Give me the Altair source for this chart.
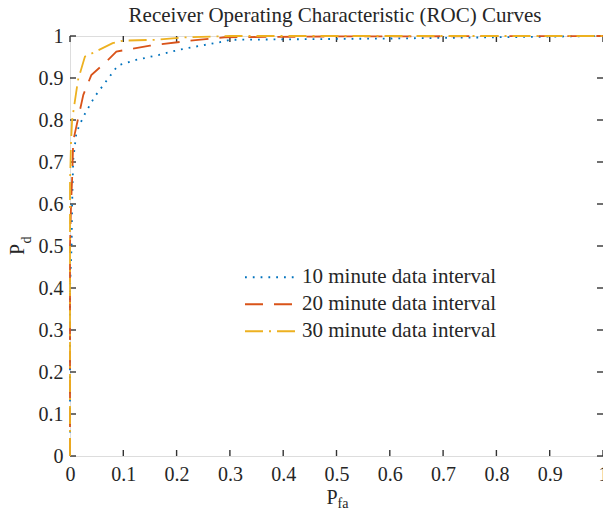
import altair as alt
import pandas as pd

labels = ["10 minute data interval", "20 minute data interval", "30 minute data interval"]
colors = ["#0072BD", "#D95319", "#EDB120"]
dashes = [[1.8, 6], [18, 11], [18, 6, 2, 6]]

pfa_10 = [0, 0, 0.003, 0.004, 0.006, 0.012, 0.025, 0.046, 0.09, 0.124, 0.167, 0.204, 0.241, 0.284, 0.3, 0.6, 1]
pd_10 = [0, 0.4, 0.5, 0.6, 0.705, 0.77, 0.808, 0.855, 0.93, 0.943, 0.955, 0.967, 0.976, 0.986, 0.991, 0.994, 1]

pfa_20 = [0, 0, 0.002, 0.004, 0.006, 0.025, 0.04, 0.068, 0.087, 0.15, 0.22, 0.29, 0.5, 1]
pd_20 = [0, 0.5, 0.6, 0.66, 0.75, 0.86, 0.907, 0.939, 0.963, 0.977, 0.988, 0.997, 0.999, 1]

pfa_30 = [0, 0, 0.002, 0.004, 0.015, 0.028, 0.04, 0.08, 0.1, 0.16, 0.22, 0.3, 1]
pd_30 = [0, 0.65, 0.75, 0.8, 0.895, 0.951, 0.958, 0.983, 0.989, 0.991, 0.997, 1, 1]

ticks = [0, 0.1, 0.2, 0.3, 0.4, 0.5, 0.6, 0.7, 0.8, 0.9, 1]

rows = []
for lab, xs, ys in zip(labels, [pfa_10, pfa_20, pfa_30], [pd_10, pd_20, pd_30]):
    for i, (a, b) in enumerate(zip(xs, ys)):
        rows.append({"series": lab, "pfa": a, "pd": b, "idx": i})
df = pd.DataFrame(rows)
tdf = pd.DataFrame({"t": ticks})

W, H = 533, 420
FONT = "Liberation Serif"
TXT = "#262626"
AX = "#333333"

xscale = alt.Scale(domain=[0, 1], nice=False)
yscale = alt.Scale(domain=[0, 1], nice=False)

leg = alt.Legend(
    title=None, orient="none", legendX=174, legendY=228,
    symbolType="stroke", symbolSize=2500, symbolStrokeWidth=1.8,
    clipHeight=26.5, rowPadding=0, padding=0, labelOffset=6,
    labelFont=FONT, labelFontSize=21, labelColor=TXT, labelLimit=400,
)

lines = alt.Chart(df).mark_line(strokeWidth=1.8, clip=False).encode(
    x=alt.X("pfa:Q", scale=xscale,
            axis=alt.Axis(values=ticks, format="~g", ticks=False, domain=False, grid=False,
                          labelFont=FONT, labelFontSize=20, labelColor=TXT, labelPadding=8,
                          labelFlush=False, title="P", titleFont=FONT, titleFontSize=20,
                          titleFontWeight="normal", titleColor=TXT, titleX=261.5, titleY=47,
                          titleAlign="center", titleBaseline="alphabetic")),
    y=alt.Y("pd:Q", scale=yscale,
            axis=alt.Axis(values=ticks, format="~g", ticks=False, domain=False, grid=False,
                          labelFont=FONT, labelFontSize=20, labelColor=TXT, labelPadding=7,
                          labelFlush=False, title="P", titleFont=FONT, titleFontSize=20,
                          titleFontWeight="normal", titleColor=TXT, titleX=-47, titleY=213,
                          titleAngle=270, titleAlign="center", titleBaseline="alphabetic")),
    color=alt.Color("series:N", scale=alt.Scale(domain=labels, range=colors), legend=leg),
    strokeDash=alt.StrokeDash("series:N", scale=alt.Scale(domain=labels, range=dashes), legend=leg),
    order="idx:Q",
)

tick_style = dict(color=AX, strokeWidth=1.4)
bt = alt.Chart(tdf).mark_rule(**tick_style).encode(x=alt.X("t:Q", scale=xscale), y=alt.value(H), y2=alt.value(H - 6))
tt = alt.Chart(tdf).mark_rule(**tick_style).encode(x=alt.X("t:Q", scale=xscale), y=alt.value(0), y2=alt.value(6))
lt = alt.Chart(tdf).mark_rule(**tick_style).encode(y=alt.Y("t:Q", scale=yscale), x=alt.value(0), x2=alt.value(6))
rt = alt.Chart(tdf).mark_rule(**tick_style).encode(y=alt.Y("t:Q", scale=yscale), x=alt.value(W), x2=alt.value(W - 6))

sub_x = alt.Chart(tdf.head(1)).mark_text(font=FONT, fontSize=14, color=TXT, align="center", baseline="alphabetic").encode(
    x=alt.value(273), y=alt.value(472), text=alt.value("fa"))
sub_y = alt.Chart(tdf.head(1)).mark_text(font=FONT, fontSize=14, color=TXT, align="center", baseline="alphabetic", angle=270).encode(
    x=alt.value(-39), y=alt.value(204), text=alt.value("d"))
title_txt = alt.Chart(tdf.head(1)).mark_text(font=FONT, fontSize=21, color=TXT, align="center", baseline="alphabetic").encode(
    x=alt.value(265), y=alt.value(-14.5), text=alt.value("Receiver Operating Characteristic (ROC) Curves"))

chart = alt.layer(bt, tt, lt, rt, lines, sub_x, sub_y, title_txt).properties(
    width=W, height=H,
    autosize=alt.AutoSizeParams(type="none"),
    padding={"left": 62, "top": 28, "right": 0, "bottom": 52},
).configure_view(stroke=AX, strokeWidth=1.5).configure(background="white")

chart.save("out.html", embed_options={"renderer": "svg", "actions": False})
